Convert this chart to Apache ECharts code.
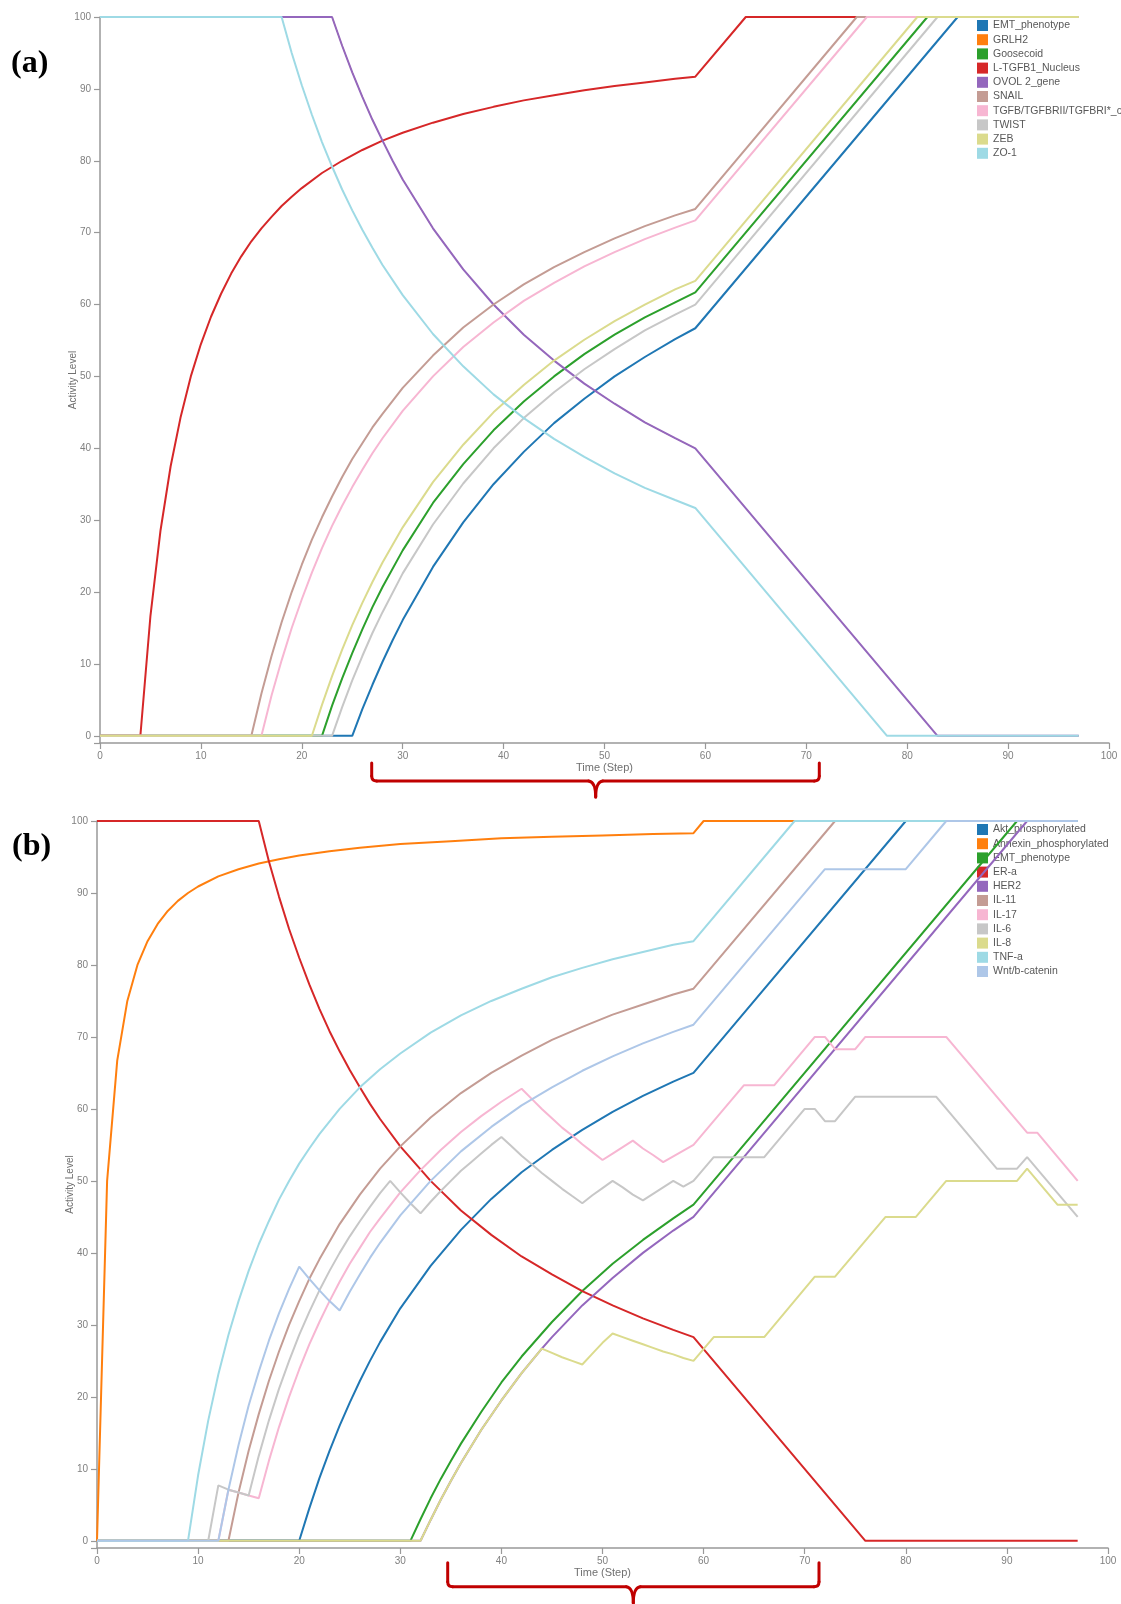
<!DOCTYPE html>
<html>
<head>
<meta charset="utf-8">
<script src="https://cdn.jsdelivr.net/npm/echarts@6/dist/echarts.min.js"></script>
<style>
html,body{margin:0;padding:0;background:#fff;}
#c{width:1121px;height:1604px;}
</style>
</head>
<body>
<div id="c"></div>
<script>
// ---------- tick labels ----------
const xTicks = [0,10,20,30,40,50,60,70,80,90,100];
const yTicks = [0,10,20,30,40,50,60,70,80,90,100];
const axisTitleX = 'Time (Step)';
const axisTitleY = 'Activity Level';

// ---------- panel (a) ----------
const namesA = ['EMT_phenotype','GRLH2','Goosecoid','L-TGFB1_Nucleus','OVOL 2_gene','SNAIL','TGFB/TGFBRII/TGFBRI*_c','TWIST','ZEB','ZO-1'];

const EMT_a = [[0,0],[25,0],[26,3.7],[27,7.1],[28,10.3],[29,13.3],[30,16.1],[33,23.5],[36,29.7],[39,35],[42,39.5],[45,43.5],[48,46.9],[51,50],[54,52.7],[57,55.2],[59,56.7],[85,100],[97,100]];
// GRLH2 is not visible in the picture: it runs underneath the OVOL 2_gene line
const GRLH2_a = [[0,100],[23,100],[24,96],[25,92.3],[26,88.9],[27,85.7],[28,82.8],[29,80],[30,77.4],[33,70.6],[36,64.9],[39,60],[42,55.8],[45,52.2],[48,49],[51,46.2],[54,43.6],[57,41.4],[59,40],[83,0],[97,0]];
const Goosecoid_a = [[0,0],[22,0],[23,4.2],[24,8],[25,11.5],[26,14.8],[27,17.9],[28,20.7],[30,25.8],[33,32.4],[36,37.8],[39,42.5],[42,46.5],[45,50],[48,53.1],[51,55.8],[54,58.2],[57,60.3],[59,61.7],[82,100],[97,100]];
const LTGFB1_a = [[0,0],[4,0],[5,16.7],[6,28.6],[7,37.5],[8,44.4],[9,50],[10,54.5],[11,58.3],[12,61.5],[13,64.3],[14,66.7],[15,68.8],[16,70.6],[17,72.2],[18,73.7],[19,75],[20,76.2],[22,78.3],[24,80],[26,81.5],[28,82.8],[30,83.9],[33,85.3],[36,86.5],[39,87.5],[42,88.4],[45,89.1],[48,89.8],[51,90.4],[54,90.9],[57,91.4],[59,91.7],[64,100],[97,100]];
const OVOL2_a = [[0,100],[23,100],[24,96],[25,92.3],[26,88.9],[27,85.7],[28,82.8],[29,80],[30,77.4],[33,70.6],[36,64.9],[39,60],[42,55.8],[45,52.2],[48,49],[51,46.2],[54,43.6],[57,41.4],[59,40],[83,0],[97,0]];
const SNAIL_a = [[0,0],[15,0],[16,5.9],[17,11.1],[18,15.8],[19,20],[20,23.8],[21,27.3],[22,30.4],[23,33.3],[24,36],[25,38.5],[26,40.7],[27,42.9],[28,44.8],[30,48.4],[33,52.9],[36,56.8],[39,60],[42,62.8],[45,65.2],[48,67.3],[51,69.2],[54,70.9],[57,72.4],[59,73.3],[75,100],[97,100]];
const TGFB_a = [[0,0],[16,0],[17,5.6],[18,10.5],[19,15],[20,19],[21,22.7],[22,26.1],[23,29.2],[24,32],[25,34.6],[26,37],[27,39.3],[28,41.4],[30,45.2],[33,50],[36,54.1],[39,57.5],[42,60.5],[45,63],[48,65.3],[51,67.3],[54,69.1],[57,70.7],[59,71.7],[76,100],[97,100]];
const TWIST_a = [[0,0],[23,0],[24,4],[25,7.7],[26,11.1],[27,14.3],[28,17.2],[30,22.6],[33,29.4],[36,35.1],[39,40],[42,44.2],[45,47.8],[48,51],[51,53.8],[54,56.4],[57,58.6],[59,60],[83,100],[97,100]];
const ZEB_a = [[0,0],[21,0],[22,4.3],[23,8.3],[24,12],[25,15.4],[26,18.5],[27,21.4],[28,24.1],[30,29],[33,35.3],[36,40.5],[39,45],[42,48.8],[45,52.2],[48,55.1],[51,57.7],[54,60],[57,62.1],[59,63.3],[81,100],[97,100]];
const ZO1_a = [[0,100],[18,100],[19,95],[20,90.5],[21,86.4],[22,82.6],[23,79.2],[24,76],[25,73.1],[26,70.4],[27,67.9],[28,65.5],[30,61.3],[33,55.9],[36,51.4],[39,47.5],[42,44.2],[45,41.3],[48,38.8],[51,36.5],[54,34.5],[57,32.8],[59,31.7],[78,0],[97,0]];

// ---------- panel (b) ----------
const namesB = ['Akt_phosphorylated','Annexin_phosphorylated','EMT_phenotype','ER-a','HER2','IL-11','IL-17','IL-6','IL-8','TNF-a','Wnt/b-catenin'];

const Akt_b = [[0,0],[20,0],[21,4.5],[22,8.7],[23,12.5],[24,16],[25,19.2],[26,22.2],[27,25],[28,27.6],[30,32.3],[33,38.2],[36,43.2],[39,47.5],[42,51.2],[45,54.3],[48,57.1],[51,59.6],[54,61.8],[57,63.8],[59,65],[80,100],[97,100]];
const Annexin_b = [[0,0],[1,50],[2,66.7],[3,75],[4,80],[5,83.3],[6,85.7],[7,87.5],[8,88.9],[9,90],[10,90.9],[12,92.3],[14,93.3],[16,94.1],[18,94.7],[20,95.2],[23,95.8],[26,96.3],[30,96.8],[35,97.2],[40,97.6],[45,97.8],[50,98],[55,98.2],[59,98.3],[60,100],[97,100]];
const EMT_b = [[0,0],[31,0],[32,3],[33,5.9],[34,8.6],[35,11.1],[36,13.5],[38,17.9],[40,22],[42,25.6],[45,30.4],[48,34.7],[51,38.5],[54,41.8],[57,44.8],[59,46.7],[91,100],[97,100]];
const ERa_b = [[0,100],[16,100],[17,94.4],[18,89.5],[19,85],[20,81],[21,77.3],[22,73.9],[23,70.8],[24,68],[25,65.4],[26,63],[27,60.7],[28,58.6],[30,54.8],[33,50],[36,45.9],[39,42.5],[42,39.5],[45,37],[48,34.7],[51,32.7],[54,30.9],[57,29.3],[59,28.3],[76,0],[97,0]];
const HER2_b = [[0,0],[32,0],[33,2.9],[34,5.7],[35,8.3],[36,10.8],[38,15.4],[40,19.5],[42,23.3],[44,26.7],[45,28.3],[48,32.7],[51,36.5],[54,40],[57,43.1],[59,45],[92,100],[97,100]];
const IL11_b = [[0,0],[13,0],[14,6.7],[15,12.5],[16,17.6],[17,22.2],[18,26.3],[19,30],[20,33.3],[21,36.4],[22,39.1],[24,44],[26,48.1],[28,51.7],[30,54.8],[33,58.8],[36,62.2],[39,65],[42,67.4],[45,69.6],[48,71.4],[51,73.1],[54,74.5],[57,75.9],[59,76.7],[73,100],[97,100]];
const IL17_b = [[0,0],[12,0],[13,7.1],[14,6.7],[15,6.3],[16,5.9],[17,11.1],[18,15.8],[19,20],[20,23.8],[21,27.3],[22,30.4],[23,33.3],[24,36],[25,38.5],[26,40.7],[27,42.9],[28,44.8],[30,48.4],[32,51.5],[34,54.3],[36,56.8],[38,59],[40,61],[42,62.8],[43,61.4],[44,60],[45,58.7],[46,57.4],[47,56.3],[48,55.1],[49,54],[50,52.9],[51,53.8],[52,54.7],[53,55.6],[54,54.5],[55,53.6],[56,52.6],[57,53.4],[58,54.2],[59,55],[64,63.3],[67,63.3],[71,70],[72,70],[73,68.3],[75,68.3],[76,70],[84,70],[92,56.7],[93,56.7],[97,50]];
const IL6_b = [[0,0],[11,0],[12,7.7],[13,7.1],[14,6.7],[15,6.3],[16,11.8],[17,16.7],[18,21.1],[19,25],[20,28.6],[21,31.8],[22,34.8],[23,37.5],[24,40],[25,42.3],[26,44.4],[27,46.4],[28,48.3],[29,50],[30,48.4],[31,46.9],[32,45.5],[33,47.1],[34,48.6],[35,50],[36,51.4],[37,52.6],[38,53.8],[39,55],[40,56.1],[41,54.8],[42,53.5],[43,52.3],[44,51.1],[45,50],[46,48.9],[47,47.9],[48,46.9],[49,48],[50,49],[51,50],[52,49.1],[53,48.1],[54,47.3],[55,48.2],[56,49.1],[57,50],[58,49.2],[59,50],[61,53.3],[66,53.3],[70,60],[71,60],[72,58.3],[73,58.3],[75,61.7],[83,61.7],[89,51.7],[91,51.7],[92,53.3],[97,45]];
const IL8_b = [[0,0],[32,0],[33,2.9],[34,5.7],[35,8.3],[36,10.8],[38,15.4],[40,19.5],[42,23.3],[44,26.7],[45,26.1],[46,25.5],[47,25],[48,24.5],[49,26],[50,27.5],[51,28.8],[52,28.3],[53,27.8],[54,27.3],[55,26.8],[56,26.3],[57,25.9],[58,25.4],[59,25],[61,28.3],[66,28.3],[71,36.7],[73,36.7],[78,45],[81,45],[84,50],[91,50],[92,51.7],[95,46.7],[97,46.7]];
const TNFa_b = [[0,0],[9,0],[10,9.1],[11,16.7],[12,23.1],[13,28.6],[14,33.3],[15,37.5],[16,41.2],[17,44.4],[18,47.4],[19,50],[20,52.4],[21,54.5],[22,56.5],[24,60],[26,63],[28,65.5],[30,67.7],[33,70.6],[36,73],[39,75],[42,76.7],[45,78.3],[48,79.6],[51,80.8],[54,81.8],[57,82.8],[59,83.3],[69,100],[97,100]];
const Wnt_b = [[0,0],[12,0],[13,7.1],[14,13.3],[15,18.8],[16,23.5],[17,27.8],[18,31.6],[19,35],[20,38.1],[21,36.4],[22,34.8],[23,33.3],[24,32],[25,34.6],[26,37],[27,39.3],[28,41.4],[30,45.2],[33,50],[36,54.1],[39,57.5],[42,60.5],[45,63],[48,65.3],[51,67.3],[54,69.1],[57,70.7],[59,71.7],[72,93.3],[80,93.3],[84,100],[97,100]];

// ---------- styles ----------
const dataA = [EMT_a, GRLH2_a, Goosecoid_a, LTGFB1_a, OVOL2_a, SNAIL_a, TGFB_a, TWIST_a, ZEB_a, ZO1_a];
const dataB = [Akt_b, Annexin_b, EMT_b, ERa_b, HER2_b, IL11_b, IL17_b, IL6_b, IL8_b, TNFa_b, Wnt_b];
const colorsA = ['#1f77b4','#ff7f0e','#2ca02c','#d62728','#9467bd','#c49c94','#f7b6d2','#c7c7c7','#dbdb8d','#9edae5'];
const colorsB = ['#1f77b4','#ff7f0e','#2ca02c','#d62728','#9467bd','#c49c94','#f7b6d2','#c7c7c7','#dbdb8d','#9edae5','#aec7e8'];
const widthsA = [2, 1, 2, 2, 2, 2, 2, 2, 2, 2];

const axisGray = '#999999';
const labelGray = '#808080';

function makeX(gi) {
  return {
    gridIndex: gi, type: 'value', min: 0, max: 100, interval: 10,
    axisLine: {show: true, onZero: false, lineStyle: {color: axisGray, width: 1.5}},
    axisTick: {show: true, length: 6, lineStyle: {color: axisGray, width: 1.2}},
    axisLabel: {color: labelGray, fontSize: 10, margin: 8, fontFamily: 'Liberation Sans'},
    splitLine: {show: false},
    name: axisTitleX, nameLocation: 'middle', nameGap: 19, nameMoveOverlap: false,
    nameTextStyle: {color: '#707070', fontSize: 11, fontFamily: 'Liberation Sans'}
  };
}
function makeY(gi) {
  return {
    gridIndex: gi, type: 'value', min: -1, max: 100,
    axisLine: {show: true, onZero: false, lineStyle: {color: axisGray, width: 1.5}},
    axisTick: {show: true, length: 6, customValues: [-1].concat(yTicks), lineStyle: {color: axisGray, width: 1.2}},
    axisLabel: {color: labelGray, fontSize: 10, margin: 9, fontFamily: 'Liberation Sans', customValues: yTicks},
    splitLine: {show: false},
    name: axisTitleY, nameLocation: 'middle', nameRotate: 90, nameGap: 22, nameMoveOverlap: false,
    nameTextStyle: {color: '#707070', fontSize: 10, fontFamily: 'Liberation Sans'}
  };
}
function makeSeries(names, datas, colors, gi, widths) {
  return names.map((n, i) => ({
    name: n, type: 'line', xAxisIndex: gi, yAxisIndex: gi,
    data: datas[i], showSymbol: false, symbol: 'none', clip: false,
    color: colors[i], z: 3,
    lineStyle: {color: colors[i], width: widths ? widths[i] : 2},
    emphasis: {disabled: true}
  }));
}
function makeLegend(names, colors, top) {
  return {
    orient: 'vertical', left: 977, top: top, z: 1, padding: 0,
    icon: 'rect', itemWidth: 11, itemHeight: 11, itemGap: 3.2,
    selectedMode: false,
    textStyle: {fontSize: 10.5, color: '#585858', lineHeight: 11, fontFamily: 'Liberation Sans'},
    data: names.map((n, i) => ({name: n, itemStyle: {color: colors[i], borderWidth: 0}}))
  };
}

const braceColor = '#c00000';
const braceStyle = {stroke: braceColor, lineWidth: 3, fill: null, lineCap: 'round', lineJoin: 'round'};
function seg(x1, y1, x2, y2) { return {type: 'line', shape: {x1, y1, x2, y2}, style: braceStyle, z: 10}; }
function curve(x1, y1, cx, cy, x2, y2) { return {type: 'bezierCurve', shape: {x1, y1, cpx1: cx, cpy1: cy, x2, y2}, style: braceStyle, z: 10}; }
function brace(xl, xr, xm, yTop, yLine, yTip) {
  return [
    seg(xl, yTop, xl, yLine - 5),
    curve(xl, yLine - 5, xl, yLine, xl + 5, yLine),
    seg(xl + 5, yLine, xm - 7, yLine),
    curve(xm - 7, yLine, xm, yLine + 1, xm, yTip),
    curve(xm, yTip, xm, yLine + 1, xm + 7, yLine),
    seg(xm + 7, yLine, xr - 5, yLine),
    curve(xr - 5, yLine, xr, yLine, xr, yLine - 5),
    seg(xr, yLine - 5, xr, yTop)
  ];
}

const chart = echarts.init(document.getElementById('c'), null, {renderer: 'canvas', width: 1121, height: 1604});
chart.setOption({
  animation: false,
  backgroundColor: '#ffffff',
  grid: [
    {left: 100, top: 17, width: 1009, height: 726, containLabel: false},
    {left: 97, top: 821, width: 1011, height: 727, containLabel: false}
  ],
  xAxis: [makeX(0), makeX(1)],
  yAxis: [makeY(0), makeY(1)],
  legend: [makeLegend(namesA, colorsA, 20), makeLegend(namesB, colorsB, 824)],
  series: makeSeries(namesA, dataA, colorsA, 0, widthsA).concat(makeSeries(namesB, dataB, colorsB, 1)),
  graphic: [
    {type: 'text', x: 11, y: 64, z: 10, style: {text: '(a)', font: 'bold 32px "Liberation Serif"', fill: '#000', verticalAlign: 'middle', align: 'left'}},
    {type: 'text', x: 12, y: 847, z: 10, style: {text: '(b)', font: 'bold 32px "Liberation Serif"', fill: '#000', verticalAlign: 'middle', align: 'left'}}
  ].concat(brace(371.7, 819.3, 595.7, 763, 781, 797)).concat(brace(447.7, 819, 633.3, 1562.7, 1586.7, 1603))
});
</script>
</body>
</html>
